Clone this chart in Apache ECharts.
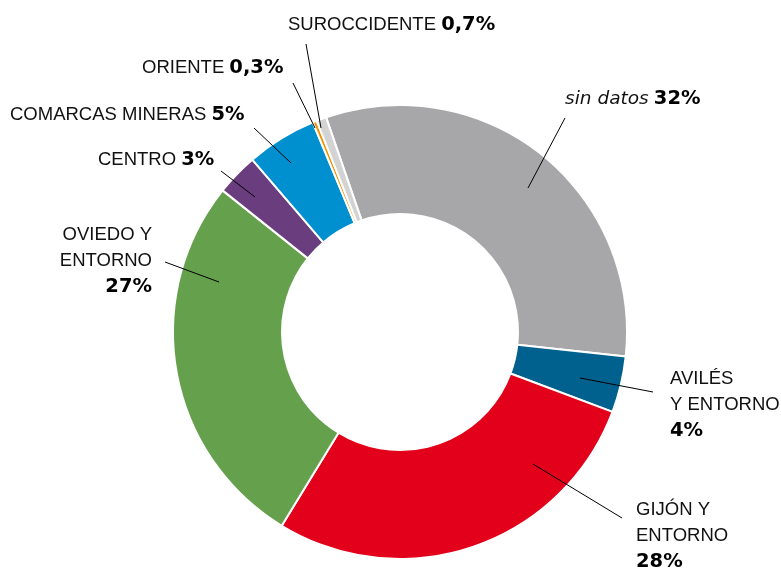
<!DOCTYPE html>
<html><head><meta charset="utf-8">
<script src="https://cdn.jsdelivr.net/npm/echarts@6/dist/echarts.min.js"></script>
<style>html,body{margin:0;padding:0;background:#fff}#c{width:781px;height:572px}</style>
</head><body><div id="c"></div>
<script>
var categories = ['sin datos', 'AVILÉS\nY ENTORNO', 'GIJÓN Y\nENTORNO', 'OVIEDO Y\nENTORNO', 'CENTRO', 'COMARCAS MINERAS', 'ORIENTE', 'SUROCCIDENTE'];
var values = [32, 4, 28, 27, 3, 5, 0.3, 0.7];
var colors = ['#a7a7a9', '#00618f', '#e2001a', '#65a04d', '#6a3d7f', '#0090cf', '#f39200', '#d3d3d3'];
var italicNames = [true, false, false, false, false, false, false, false];
var multiLine = [false, true, true, true, false, false, false, false];

// label placement (pixels): x, y, align, verticalAlign, leader line [from, to]
var labelPlace = [
  {x: 565, y: 99, a: 'left', v: 'middle', line: [[565, 118], [528, 188]]},
  {x: 670, y: 366, a: 'left', v: 'top', line: [[653, 392], [580, 378]]},
  {x: 636, y: 497, a: 'left', v: 'top', line: [[622, 518], [533, 464]]},
  {x: 152, y: 222, a: 'right', v: 'top', line: [[165, 262], [219, 282]]},
  {x: 98, y: 160, a: 'left', v: 'middle', line: [[221, 171], [255, 197]]},
  {x: 10, y: 115, a: 'left', v: 'middle', line: [[254, 128], [291, 163]]},
  {x: 142, y: 68, a: 'left', v: 'middle', line: [[293, 83], [315, 128]]},
  {x: 288, y: 25, a: 'left', v: 'middle', line: [[306, 44], [321, 128]]}
];

function pct(v) { return String(v).replace('.', ',') + '%'; }

var FONT = "'Liberation Sans', Arial, sans-serif";
var BFONT = "'DejaVu Sans', sans-serif";
var CENTER = [400, 332], RADIUS = [118, 227], START = 109;

var sliceData = categories.map(function (c, i) {
  return {name: c, value: values[i], itemStyle: {color: colors[i]}};
});
var labelData = categories.map(function (c, i) {
  return {name: c, value: values[i]};
});

var chart = echarts.init(document.getElementById('c'), null, {renderer: 'canvas'});
chart.setOption({
  animation: false,
  series: [{
    type: 'pie',
    z: 2,
    center: CENTER,
    radius: RADIUS,
    startAngle: START,
    clockwise: true,
    avoidLabelOverlap: false,
    silent: true,
    data: sliceData,
    itemStyle: {borderColor: '#fff', borderWidth: 2},
    label: {show: false},
    labelLine: {show: false}
  }, {
    type: 'pie',
    z: 5,
    center: CENTER,
    radius: RADIUS,
    startAngle: START,
    clockwise: true,
    avoidLabelOverlap: false,
    silent: true,
    data: labelData,
    itemStyle: {color: 'rgba(0,0,0,0)', borderWidth: 0},
    label: {
      show: true,
      position: 'outside',
      formatter: function (p) {
        var i = p.dataIndex;
        var nameStyle = italicNames[i] ? 'i' : 'n';
        var lines = categories[i].split('\n').map(function (s) { return '{' + nameStyle + '|' + s + '}'; });
        if (multiLine[i]) {
          return lines.join('\n') + '\n{b|' + pct(values[i]) + '}';
        }
        return lines.join('{n| }') + '{n| }{b|' + pct(values[i]) + '}';
      },
      rich: {
        n: {fontFamily: FONT, fontSize: 18.5, color: '#111', lineHeight: 26},
        i: {fontFamily: BFONT, fontSize: 18.5, fontStyle: 'italic', color: '#111', lineHeight: 26},
        b: {fontFamily: BFONT, fontSize: 19.5, fontWeight: 'bold', color: '#000', lineHeight: 26}
      }
    },
    labelLine: {show: true, lineStyle: {color: '#000', width: 1}},
    labelLayout: function (params) {
      var p = labelPlace[params.dataIndex];
      var a = p.line[0], b = p.line[1];
      return {
        x: p.x, y: p.y, align: p.a, verticalAlign: p.v,
        labelLinePoints: [a, [(a[0] + b[0]) / 2, (a[1] + b[1]) / 2], b]
      };
    }
  }]
});
</script></body></html>
